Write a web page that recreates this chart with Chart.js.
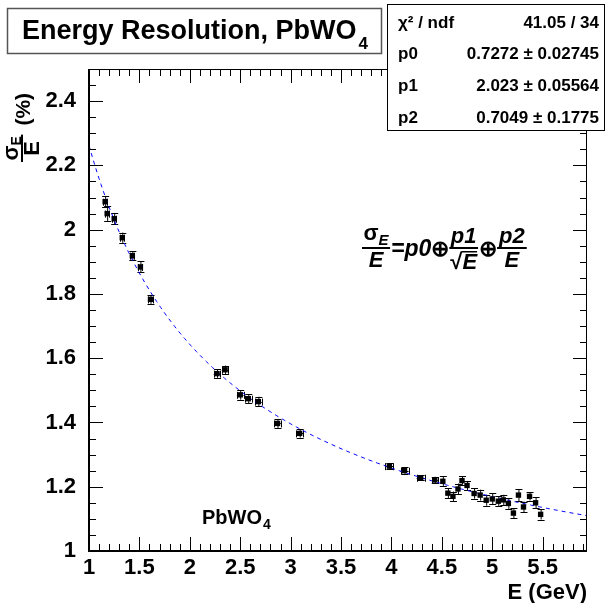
<!DOCTYPE html>
<html><head><meta charset="utf-8">
<script src="https://cdn.jsdelivr.net/npm/chart.js@4.4.1/dist/chart.umd.min.js"></script>
<style>html,body{margin:0;padding:0;background:#fff;}canvas{display:block;}</style>
</head><body>
<canvas id="c" width="609" height="603"></canvas>
<script>
// ---- data ----
const energyGeV = [1.16,1.18,1.25,1.33,1.43,1.51,1.61,
  2.27,2.35,2.50,2.58,2.68,2.87,3.09,
  3.98,4.13,4.29,4.43,4.51,4.56,4.61,4.66,4.70,4.75,4.82,4.88,4.94,5.00,5.06,5.11,5.16,5.21,5.26,5.31,5.37,5.43,5.48];
const resolution = [2.087,2.050,2.034,1.975,1.919,1.884,1.783,
  1.552,1.564,1.486,1.474,1.465,1.397,1.366,
  1.264,1.250,1.228,1.221,1.217,1.180,1.170,1.193,1.219,1.204,1.179,1.174,1.158,1.162,1.155,1.159,1.148,1.118,1.174,1.137,1.170,1.150,1.114];
const resolutionErr = [0.018,0.023,0.017,0.016,0.014,0.017,0.014,
  0.013,0.013,0.015,0.014,0.015,0.014,0.013,
  0.010,0.010,0.008,0.010,0.015,0.016,0.015,0.017,0.013,0.014,0.016,0.017,0.017,0.017,0.016,0.016,0.017,0.016,0.019,0.017,0.013,0.017,0.016];
const energyErr = [0.02,0.02,0.02,0.02,0.02,0.02,0.02,
  0.033,0.033,0.033,0.033,0.033,0.033,0.033,
  0.04,0.04,0.04,0.03,0,0,0,0,0,0,0,0,0,0,0,0,0,0,0,0,0,0,0];
const fitParams = [0.7272, 2.023, 0.7049];
const fitParamErrors = [0.02745, 0.05564, 0.1775];
const fitChi2 = 41.05, fitNdf = 34;
const xTickValues = [1,1.5,2,2.5,3,3.5,4,4.5,5,5.5];
const yTickValues = [1,1.2,1.4,1.6,1.8,2,2.2,2.4];
const xRange = [1, 5.94];
const yRange = [1, 2.5];

// fit function drawn from the fitted parameters (quadrature sum)
const fitFn = E => Math.sqrt(fitParams[0]**2 + fitParams[1]**2 / E + fitParams[2]**2 / (E*E));
const fitX = [];
for (let i = 0; i <= 250; i++) fitX.push(xRange[0] + (xRange[1]-xRange[0]) * i / 250);
const fitPoints = fitX.map(e => ({x: e, y: fitFn(e)}));
const points = energyGeV.map((e, i) => ({x: e, y: resolution[i]}));

const FONT = '"Liberation Sans", Arial, Helvetica, sans-serif';

function textW(ctx, t, f){ ctx.font = f; return ctx.measureText(t).width; }

const rootPlugin = {
  id: 'rootPlugin',
  beforeDatasetsDraw(chart){
    const ctx = chart.ctx, xs = chart.scales.x, ys = chart.scales.y, a = chart.chartArea;
    ctx.save();
    ctx.beginPath(); ctx.rect(a.left, a.top, a.right-a.left, a.bottom-a.top); ctx.clip();
    ctx.strokeStyle = '#000'; ctx.lineWidth = 1;
    energyGeV.forEach((e, i) => {
      const px = xs.getPixelForValue(e), py = ys.getPixelForValue(resolution[i]);
      const y1 = ys.getPixelForValue(resolution[i] + resolutionErr[i]);
      const y2 = ys.getPixelForValue(resolution[i] - resolutionErr[i]);
      ctx.beginPath();
      ctx.moveTo(px+0.5, y1); ctx.lineTo(px+0.5, y2);
      ctx.moveTo(px-3, Math.round(y1)+0.5); ctx.lineTo(px+4, Math.round(y1)+0.5);
      ctx.moveTo(px-3, Math.round(y2)+0.5); ctx.lineTo(px+4, Math.round(y2)+0.5);
      if (energyErr[i] > 0) {
        const x1 = xs.getPixelForValue(e - energyErr[i]), x2 = xs.getPixelForValue(e + energyErr[i]);
        ctx.moveTo(x1, Math.round(py)+0.5); ctx.lineTo(x2, Math.round(py)+0.5);
        ctx.moveTo(Math.round(x1)+0.5, py-3); ctx.lineTo(Math.round(x1)+0.5, py+4);
        ctx.moveTo(Math.round(x2)+0.5, py-3); ctx.lineTo(Math.round(x2)+0.5, py+4);
      }
      ctx.stroke();
    });
    ctx.restore();
  },
  afterDraw(chart){
    const ctx = chart.ctx, xs = chart.scales.x, ys = chart.scales.y, a = chart.chartArea;
    ctx.save();
    // frame
    ctx.strokeStyle = '#000';
    ctx.lineWidth = 1;
    ctx.strokeRect(a.left+0.5, a.top+0.5, a.right-a.left-1, a.bottom-a.top-1);
    ctx.lineWidth = 2;
    ctx.beginPath();
    ctx.moveTo(a.left, a.top); ctx.lineTo(a.left, a.bottom); ctx.lineTo(a.right, a.bottom);
    ctx.stroke();
    // ticks
    ctx.lineWidth = 1;
    ctx.beginPath();
    for (let k = 0; ; k++) {
      const v = yRange[0] + k*0.05; if (v > yRange[1] + 1e-9) break;
      const major = Math.abs(v*5 - Math.round(v*5)) < 1e-6;
      const L = major ? 14 : 7;
      const py = Math.round(ys.getPixelForValue(v)) + 0.5;
      ctx.moveTo(a.left, py); ctx.lineTo(a.left+L, py);
      ctx.moveTo(a.right, py); ctx.lineTo(a.right-L, py);
    }
    for (let k = 0; ; k++) {
      const v = xRange[0] + k*0.1; if (v > xRange[1] + 1e-9) break;
      const major = Math.abs(v*2 - Math.round(v*2)) < 1e-6;
      const L = major ? 14 : 7;
      const px = Math.round(xs.getPixelForValue(v)) + 0.5;
      ctx.moveTo(px, a.bottom); ctx.lineTo(px, a.bottom-L);
      ctx.moveTo(px, a.top); ctx.lineTo(px, a.top+L);
    }
    ctx.stroke();

    ctx.fillStyle = '#000';
    ctx.textBaseline = 'alphabetic';
    // x axis title
    ctx.textAlign = 'right';
    ctx.font = 'bold 22px ' + FONT;
    ctx.fillText('E (GeV)', a.right, 599);

    // y axis title (rotated fraction)
    ctx.save();
    ctx.translate(22, 162);
    ctx.rotate(-Math.PI/2);
    ctx.textAlign = 'left';
    const fSig = 'bold 22px ' + FONT, fSub = 'bold 14px ' + FONT, fDen = 'bold 22px ' + FONT;
    const wSig = textW(ctx, 'σ', fSig), wSub = textW(ctx, 'E', fSub), wDen = textW(ctx, 'E', fDen);
    const barW = Math.max(wSig + wSub, wDen) + 3;
    ctx.font = fSig; ctx.fillText('σ', (barW - wSig - wSub)/2, -4);
    ctx.font = fSub; ctx.fillText('E', (barW - wSig - wSub)/2 + wSig, -1);
    ctx.fillRect(0, -1, barW, 2);
    ctx.font = fDen; ctx.fillText('E', (barW - wDen)/2, 17);
    ctx.font = 'bold 21px ' + FONT;
    ctx.fillText('(%)', barW + 9, 8);
    ctx.restore();

    // formula
    drawFormula(ctx);

    // PbWO4 label
    ctx.textAlign = 'left';
    ctx.font = 'bold 20px ' + FONT;
    ctx.fillText('PbWO', 202, 524);
    const wP = ctx.measureText('PbWO').width;
    ctx.font = 'bold 14px ' + FONT;
    ctx.fillText('4', 202 + wP + 1, 529);

    // title box
    ctx.fillStyle = '#fff';
    ctx.fillRect(7, 8, 374, 45);
    ctx.strokeStyle = '#555'; ctx.lineWidth = 1.5;
    ctx.strokeRect(7.5, 8.5, 374, 45);
    ctx.fillStyle = '#000';
    ctx.font = 'bold 27px ' + FONT;
    ctx.fillText('Energy Resolution, PbWO', 22, 39);
    const wT = ctx.measureText('Energy Resolution, PbWO').width;
    ctx.font = 'bold 17px ' + FONT;
    ctx.fillText('4', 22 + wT + 2, 49);

    // stats box
    ctx.fillStyle = '#fff';
    ctx.fillRect(387, 4, 218, 127);
    ctx.strokeStyle = '#000'; ctx.lineWidth = 1;
    ctx.strokeRect(387.5, 4.5, 217, 126);
    ctx.fillStyle = '#000';
    const rows = [
      ['χ² / ndf', fitChi2.toFixed(2) + ' / ' + fitNdf],
      ['p0', fitParams[0] + ' ± ' + fitParamErrors[0]],
      ['p1', fitParams[1] + ' ± ' + fitParamErrors[1]],
      ['p2', fitParams[2] + ' ± ' + fitParamErrors[2]],
    ];
    ctx.font = 'bold 17px ' + FONT;
    const rowBase = [28, 59, 91, 123];
    rows.forEach((r, i) => {
      ctx.textAlign = 'left'; ctx.fillText(r[0], 398, rowBase[i]);
      ctx.textAlign = 'right'; ctx.fillText(r[1], 599, rowBase[i]);
    });
    ctx.restore();
  }
};

function drawFormula(ctx){
  const yBar = 248;
  const big = 'bold italic 23px ' + FONT;
  const fr = 'bold italic 22px ' + FONT;
  const sub = 'bold italic 15px ' + FONT;
  const sym = 'bold 22px ' + FONT;
  ctx.textAlign = 'left';
  let x = 362;
  // sigma_E / E
  const wS = textW(ctx, 'σ', sym), wE = textW(ctx, 'E', sub), wD = textW(ctx, 'E', fr);
  let bw = Math.max(wS + wE, wD) + 3;
  ctx.font = sym; ctx.fillText('σ', x + (bw - wS - wE)/2, yBar - 8);
  ctx.font = sub; ctx.fillText('E', x + (bw - wS - wE)/2 + wS, yBar - 3);
  ctx.fillRect(x, yBar - 1, bw, 2);
  ctx.font = fr; ctx.fillText('E', x + (bw - wD)/2, yBar + 19);
  x += bw + 1;
  ctx.font = big; ctx.fillText('=p0', x, yBar + 8);
  x += textW(ctx, '=p0', big);
  ctx.font = sym; ctx.fillText('⊕', x, yBar + 8);
  x += textW(ctx, '⊕', sym);
  // p1 / sqrt(E)
  const wp1 = textW(ctx, 'p1', fr), wsq = textW(ctx, '√', sym), wE2 = textW(ctx, 'E', fr);
  bw = Math.max(wp1, wsq + wE2) + 2;
  ctx.font = fr; ctx.fillText('p1', x + (bw - wp1)/2, yBar - 5);
  ctx.fillRect(x, yBar - 1, bw, 2);
  const sx = x + (bw - wsq - wE2)/2;
  ctx.font = sym; ctx.fillText('√', sx, yBar + 21);
  ctx.font = fr; ctx.fillText('E', sx + wsq, yBar + 21);
  ctx.fillRect(sx + wsq - 1, yBar + 3, wE2 + 1, 1.5);
  x += bw + 1;
  ctx.font = sym; ctx.fillText('⊕', x, yBar + 8);
  x += textW(ctx, '⊕', sym);
  // p2 / E
  const wp2 = textW(ctx, 'p2', fr);
  bw = Math.max(wp2, wD) + 4;
  ctx.font = fr; ctx.fillText('p2', x + (bw - wp2)/2, yBar - 5);
  ctx.fillRect(x, yBar - 1, bw, 2);
  ctx.fillText('E', x + (bw - wD)/2, yBar + 19);
}

const tickFont = {family: FONT, size: 22, weight: 'bold'};
const fmt = v => String(Math.round(v*10)/10);

new Chart(document.getElementById('c'), {
  type: 'scatter',
  data: {
    datasets: [
      {
        label: 'data',
        data: points,
        pointStyle: 'rect',
        pointRadius: 3.8,
        pointHoverRadius: 3.8,
        backgroundColor: '#000',
        borderColor: '#000',
        borderWidth: 0,
        showLine: false
      },
      {
        label: 'fit',
        data: fitPoints,
        showLine: true,
        pointRadius: 0,
        borderColor: '#0000ff',
        borderWidth: 1,
        borderDash: [4, 4],
        tension: 0,
        fill: false
      }
    ]
  },
  options: {
    responsive: false,
    devicePixelRatio: 1,
    animation: false,
    events: [],
    layout: {padding: {top: 69, right: 22, left: 0, bottom: 0}},
    plugins: {legend: {display: false}, tooltip: {enabled: false}, title: {display: false}},
    scales: {
      x: {
        type: 'linear', min: xRange[0], max: xRange[1],
        afterBuildTicks: s => { s.ticks = xTickValues.map(v => ({value: v})); },
        afterFit: s => { s.height = 52; },
        grid: {display: false, drawTicks: false},
        border: {display: false},
        ticks: {font: tickFont, color: '#000', padding: 4, maxRotation: 0, autoSkip: false, callback: v => fmt(v)}
      },
      y: {
        type: 'linear', min: yRange[0], max: yRange[1],
        afterBuildTicks: s => { s.ticks = yTickValues.map(v => ({value: v})); },
        afterFit: s => { s.width = 89; },
        grid: {display: false, drawTicks: false},
        border: {display: false},
        ticks: {font: tickFont, color: '#000', padding: 13, autoSkip: false, callback: v => fmt(v)}
      }
    }
  },
  plugins: [rootPlugin]
});
</script>
</body></html>
